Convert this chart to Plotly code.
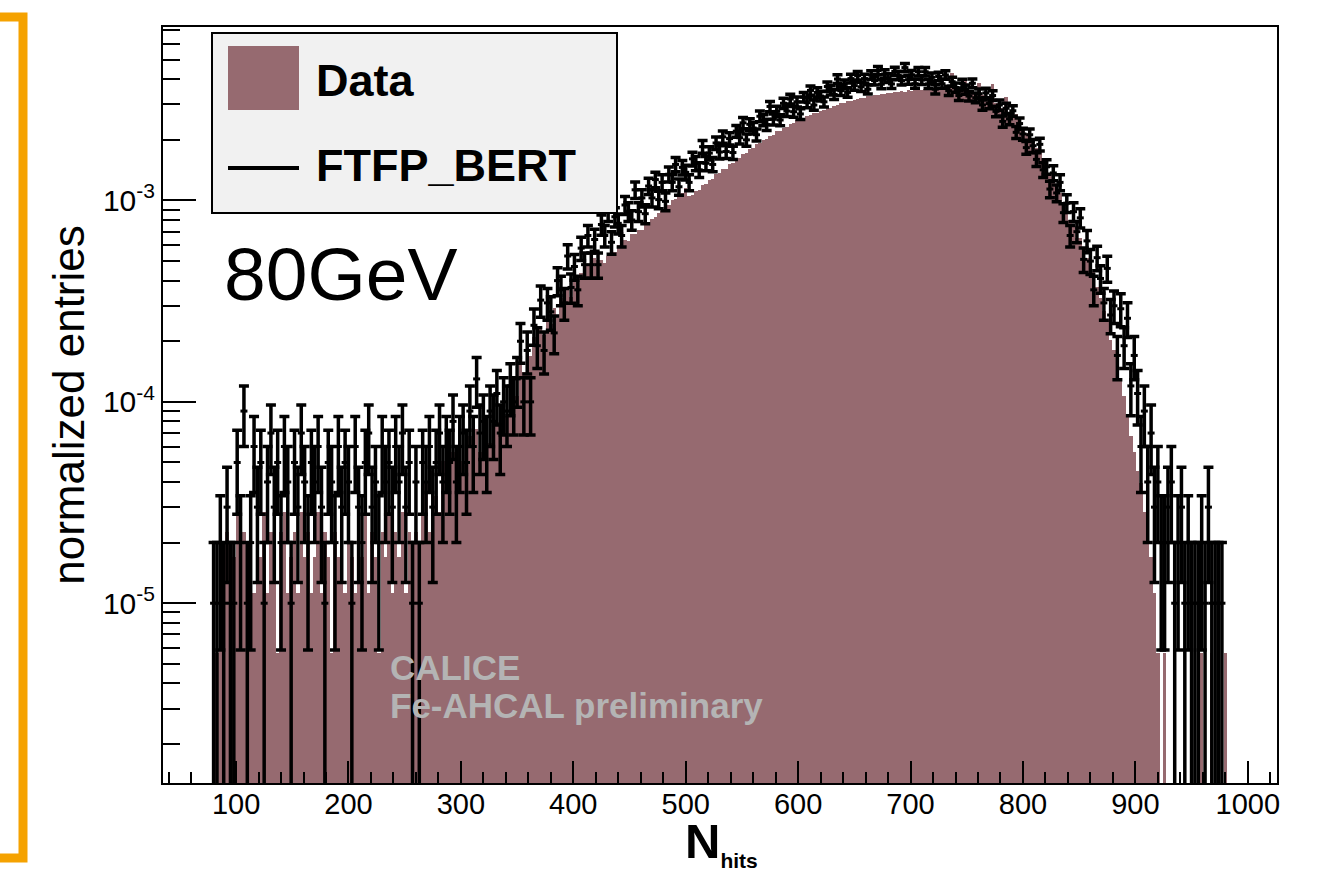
import math
import plotly.graph_objects as go

# ---------------- values ----------------
# FTFP_BERT (simulation): entries per bin, one entry = MC_UNIT normalized entries
MC_UNIT = 1e-5
mc_x = list(range(80, 980, 3))
mc_counts = [
    # 80 - 260
    1, 1, 2, 1, 3, 1, 1, 5, 2, 9, 1, 2, 6, 3, 5, 1, 4, 7, 3, 5,
    2, 6, 4, 1, 5, 3, 7, 4, 2, 5, 4, 6, 3, 1, 5, 4, 2, 6, 3, 5,
    4, 1, 6, 3, 2, 5, 7, 3, 4, 2, 6, 4, 5, 3, 6, 4, 7, 3, 5, 1, 4,
    # 263 - 350
    1, 5, 4, 6, 3, 5, 7, 4, 6, 5, 8, 4, 6, 7, 5, 9, 6, 13, 7, 8,
    6, 9, 8, 11, 7, 10, 9, 12, 10, 13,
    # 353 - 419
    20, 10, 18, 10, 24, 19, 32, 18, 31, 28, 22, 40, 36, 31, 53, 37, 47, 36, 58, 48,
    67, 48, 64,
    # 422 - 500
    48, 76, 67, 88, 62, 83, 77, 67, 95, 88, 80, 113, 88, 103, 86, 118, 103, 127, 101, 123,
    99, 135, 123, 151, 117, 146, 138,
    # 503 - 599
    123, 161, 153, 142, 185, 153, 172, 151, 193, 174, 207, 175, 203, 173, 221, 205, 243, 200, 239, 229,
    212, 262, 251, 238, 293, 253, 277, 251, 304, 278, 319, 276, 309,
    # 602 - 698
    269, 326, 306, 352, 298, 344, 330, 309, 368, 353, 336, 401, 351, 377, 344, 403, 372, 417, 367, 403,
    357, 420, 394, 442, 378, 425, 406, 379, 438, 418, 394, 457, 398,
    # 701 - 800
    421, 380, 436, 397, 436, 379, 409, 357, 413, 380, 420, 351, 389, 364, 332, 381, 356, 330, 382, 324,
    339, 298, 342, 303, 332, 277, 298, 247, 287, 254, 279, 218, 241, 214,
    # 803 - 899
    183, 212, 187, 160, 190, 142, 147, 114, 137, 109, 123, 87, 97, 67, 88, 70, 82, 51, 63, 50,
    36, 52, 41, 31, 46, 27, 30, 17, 29, 19, 26, 12, 17,
    # 902 - 977
    11, 6, 9, 4, 7, 3, 4, 2, 2, 3, 4, 1, 2, 3, 1, 2, 1, 1, 1, 2,
    1, 3, 1, 1, 1, 1,
]

# Data: entries per bin, one entry = DATA_UNIT normalized entries
DATA_UNIT = 5.65e-6
data_x = list(range(83, 983, 3))
data_counts = [
    # 83 - 263
    1, 2, 1, 4, 2, 3, 5, 2, 4, 3, 6, 2, 4, 3, 5, 2, 4, 3, 1, 4,
    5, 2, 3, 4, 2, 5, 3, 4, 2, 3, 5, 2, 4, 3, 1, 4, 3, 5, 2, 4,
    3, 2, 4, 3, 5, 2, 4, 3, 1, 4, 3, 5, 2, 4, 3, 5, 2, 4, 3, 4, 3,
    # 266 - 350
    5, 7, 4, 8, 6, 5, 9, 7, 6, 10, 8, 11, 9, 8, 12, 10, 13, 10, 14, 12,
    11, 15, 14, 13, 17, 15, 18, 16, 19,
    # 353 - 422
    28, 25, 34, 30, 37, 34, 42, 38, 47, 43, 52, 48, 58, 54, 64, 59, 71, 65, 77, 73,
    84, 80, 92, 90,
    # 425 - 500
    90, 87, 94, 98, 98, 106, 106, 113, 112, 121, 121, 127, 127, 135, 135, 144, 146, 154, 157, 165,
    168, 179, 181, 191, 193, 204,
    # 503 - 599
    187, 188, 198, 200, 211, 214, 225, 227, 239, 241, 253, 255, 269, 271, 285, 288, 302, 306, 319, 323,
    337, 340, 354, 358, 372, 376, 390, 393, 407, 411, 425, 429, 443,
    # 602 - 698
    451, 453, 466, 468, 481, 483, 495, 498, 510, 512, 524, 526, 537, 539, 550, 551, 561, 562, 572, 572,
    582, 582, 591, 590, 599, 597, 605, 603, 611, 609, 617, 615, 623,
    # 701 - 800
    620, 623, 626, 629, 632, 634, 637, 640, 642, 644, 646, 648, 760, 651, 649, 644, 715, 628, 620, 611,
    680, 590, 578, 566, 670, 539, 525, 510, 575, 477, 458, 475, 418, 398,
    # 803 - 899
    384, 360, 348, 322, 309, 284, 268, 243, 229, 206, 193, 171, 159, 141, 130, 115, 115, 100, 92, 80,
    78, 66, 58, 50, 45, 36, 32, 27, 23, 19, 15, 12, 10,
    # 902 - 980
    8, 7, 5, 4, 3, 2, 1, 0, 1, 0, 0, 1, 0, 0, 0, 0, 0, 0, 1, 1,
    0, 0, 1, 0, 1, 0, 1,
]

x_tick_vals = [100, 200, 300, 400, 500, 600, 700, 800, 900, 1000]
y_tick_vals = [1e-5, 1e-4, 1e-3]
y_tick_text = ["10<sup>-5</sup>", "10<sup>-4</sup>", "10<sup>-3</sup>"]
y_minor_vals = [m * 10.0 ** e for e in (-6, -5, -4, -3) for m in range(2, 10)]

x_title = "<b>N</b><sub><b><span style='font-size:21px'>hits</span></b></sub>"
y_title = "normalized entries"
legend_labels = ["Data", "FTFP_BERT"]
energy_label = "80GeV"
watermark = ["CALICE", "Fe-AHCAL preliminary"]

# ---------------- styling ----------------
FONT = "Liberation Sans"
MAUVE = "#966a70"
ORANGE = "#f5a200"
W, H = 1330, 870
ML, MR, MT, MB = 163, 53, 27, 87
PW, PH = W - ML - MR, H - MT - MB


def px(x):
    return (x - ML) / PW


def py(y):
    return (H - MB - y) / PH


mc_y = [c * MC_UNIT if c > 0 else None for c in mc_counts]
mc_err = [math.sqrt(c) * MC_UNIT for c in mc_counts]
data_y = [c * DATA_UNIT if c > 0 else None for c in data_counts]

fig = go.Figure()

fig.add_trace(go.Bar(
    x=data_x, y=data_y, width=3, name=legend_labels[0],
    marker=dict(color=MAUVE, line=dict(width=0)),
    showlegend=False,
))

fig.add_trace(go.Scatter(
    x=mc_x, y=mc_y, mode="markers", name=legend_labels[1], yaxis="y2",
    marker=dict(symbol="line-ew", size=5, color="black",
                line=dict(width=3, color="black")),
    error_y=dict(type="data", array=mc_err, symmetric=True,
                 thickness=3.5, width=5, color="black"),
    showlegend=False,
))

yrange = [math.log10(1.28e-6), math.log10(7.27e-3)]

fig.update_layout(
    width=W, height=H, autosize=False,
    margin=dict(l=ML, r=MR, t=MT, b=MB, autoexpand=False),
    paper_bgcolor="white", plot_bgcolor="white",
    bargap=0, showlegend=False,
    font=dict(family=FONT, color="black"),
    xaxis=dict(
        range=[35, 1026], showgrid=False, zeroline=False, automargin=False,
        showline=True, linecolor="black", linewidth=2, mirror=True,
        tickmode="array", tickvals=x_tick_vals,
        ticks="inside", ticklen=22, tickwidth=1.5, tickcolor="black",
        tickfont=dict(size=29, family=FONT, color="black"),
        ticklabelstandoff=-6,
        minor=dict(dtick=20, tick0=0, ticks="inside", ticklen=11,
                   tickwidth=1.5, tickcolor="black", showgrid=False),
    ),
    yaxis=dict(
        type="log", range=yrange, showgrid=False, zeroline=False, automargin=False,
        showline=True, linecolor="black", linewidth=2, mirror=True,
        tickmode="array", tickvals=y_tick_vals, ticktext=y_tick_text,
        ticks="inside", ticklen=33, tickwidth=1.5, tickcolor="black",
        tickfont=dict(size=30, family=FONT, color="black"),
        title=dict(text=y_title,
                   font=dict(size=44, family=FONT, color="black"),
                   standoff=5),
    ),
    yaxis2=dict(
        type="log", range=yrange, overlaying="y", side="left", anchor="x",
        showgrid=False, zeroline=False, showline=False, automargin=False,
        tickmode="array", tickvals=y_minor_vals, showticklabels=False,
        ticks="inside", ticklen=17, tickwidth=1.5, tickcolor="black",
    ),
)

# legend (drawn as a ROOT-style box)
shapes = [
    dict(type="rect", xref="paper", yref="paper",
         x0=px(212), x1=px(617), y0=py(213), y1=py(33),
         fillcolor="#f1f1f1", line=dict(color="black", width=2), layer="above"),
    dict(type="rect", xref="paper", yref="paper",
         x0=px(228), x1=px(299), y0=py(110), y1=py(46),
         fillcolor=MAUVE, line=dict(width=0), layer="above"),
    dict(type="line", xref="paper", yref="paper",
         x0=px(228), x1=px(299), y0=py(168), y1=py(168),
         line=dict(color="black", width=4), layer="above"),
    # orange bracket at the left edge
    dict(type="path", xref="paper", yref="paper",
         path=f"M {px(-5)},{py(17)} L {px(23)},{py(17)} L {px(23)},{py(858)} L {px(-5)},{py(858)}",
         line=dict(color=ORANGE, width=9), layer="above"),
]

annotations = [
    # x-axis title (placed explicitly, ROOT puts it close to the bottom edge)
    dict(text=x_title, x=px(721), y=py(812), xref="paper", yref="paper",
         xanchor="center", yanchor="top", showarrow=False,
         font=dict(size=49, family=FONT, color="black")),
    dict(text=f"<b>{legend_labels[0]}</b>", x=px(314), y=py(80), xref="paper", yref="paper",
         xanchor="left", yanchor="middle", showarrow=False,
         font=dict(size=45, family=FONT, color="black")),
    dict(text=f"<b>{legend_labels[1]}</b>", x=px(314), y=py(166), xref="paper", yref="paper",
         xanchor="left", yanchor="middle", showarrow=False,
         font=dict(size=45, family=FONT, color="black")),
    dict(text=energy_label, x=px(222), y=py(274), xref="paper", yref="paper",
         xanchor="left", yanchor="middle", showarrow=False,
         font=dict(size=75, family=FONT, color="black")),
    dict(text=f"<b>{watermark[0]}</b>", x=px(388), y=py(667), xref="paper", yref="paper",
         xanchor="left", yanchor="middle", showarrow=False,
         font=dict(size=35, family=FONT, color="#b4b4b4")),
    dict(text=f"<b>{watermark[1]}</b>", x=px(388), y=py(705), xref="paper", yref="paper",
         xanchor="left", yanchor="middle", showarrow=False,
         font=dict(size=35, family=FONT, color="#b4b4b4")),
]

fig.update_layout(shapes=shapes, annotations=annotations)
# the page body has a default 8px margin; remove it so the figure fills the window exactly
fig.write_html(
    "out.html",
    config={"displayModeBar": False},
    post_script="document.body.style.margin='0';document.body.style.overflow='hidden';",
)
